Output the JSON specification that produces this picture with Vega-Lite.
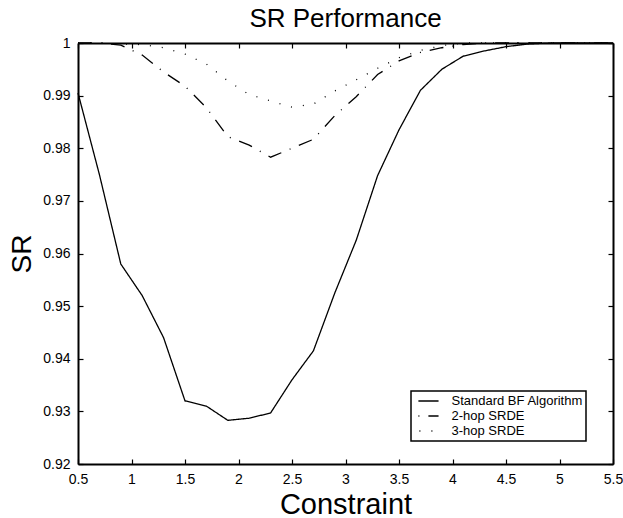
{
  "$schema": "https://vega.github.io/schema/vega-lite/v6.json",
  "width": 535,
  "height": 421,
  "autosize": "none",
  "padding": {"left": 78, "top": 43, "right": 10, "bottom": 54},
  "background": "white",
  "title": {"text": "SR Performance", "fontSize": 26, "font": "Liberation Sans", "fontWeight": "normal", "color": "black", "anchor": "middle", "offset": 4},
  "data": {"values": [
    {"series": "Standard BF Algorithm", "c": 0.5, "sr": 0.9905},
    {"series": "Standard BF Algorithm", "c": 0.7, "sr": 0.975},
    {"series": "Standard BF Algorithm", "c": 0.9, "sr": 0.958},
    {"series": "Standard BF Algorithm", "c": 1.1, "sr": 0.952},
    {"series": "Standard BF Algorithm", "c": 1.3, "sr": 0.944},
    {"series": "Standard BF Algorithm", "c": 1.5, "sr": 0.932},
    {"series": "Standard BF Algorithm", "c": 1.7, "sr": 0.931},
    {"series": "Standard BF Algorithm", "c": 1.9, "sr": 0.9283},
    {"series": "Standard BF Algorithm", "c": 2.1, "sr": 0.9287},
    {"series": "Standard BF Algorithm", "c": 2.3, "sr": 0.9297},
    {"series": "Standard BF Algorithm", "c": 2.5, "sr": 0.936},
    {"series": "Standard BF Algorithm", "c": 2.7, "sr": 0.9415},
    {"series": "Standard BF Algorithm", "c": 2.9, "sr": 0.9525},
    {"series": "Standard BF Algorithm", "c": 3.1, "sr": 0.9625},
    {"series": "Standard BF Algorithm", "c": 3.3, "sr": 0.9748},
    {"series": "Standard BF Algorithm", "c": 3.5, "sr": 0.9835},
    {"series": "Standard BF Algorithm", "c": 3.7, "sr": 0.991},
    {"series": "Standard BF Algorithm", "c": 3.9, "sr": 0.995},
    {"series": "Standard BF Algorithm", "c": 4.1, "sr": 0.9975},
    {"series": "Standard BF Algorithm", "c": 4.3, "sr": 0.9985},
    {"series": "Standard BF Algorithm", "c": 4.5, "sr": 0.9993},
    {"series": "Standard BF Algorithm", "c": 4.7, "sr": 0.9998},
    {"series": "Standard BF Algorithm", "c": 4.9, "sr": 1},
    {"series": "Standard BF Algorithm", "c": 5.1, "sr": 1},
    {"series": "Standard BF Algorithm", "c": 5.3, "sr": 1},
    {"series": "Standard BF Algorithm", "c": 5.5, "sr": 1},
    {"series": "2-hop SRDE", "c": 0.5, "sr": 1},
    {"series": "2-hop SRDE", "c": 0.7, "sr": 1},
    {"series": "2-hop SRDE", "c": 0.9, "sr": 0.9996},
    {"series": "2-hop SRDE", "c": 1.1, "sr": 0.9977},
    {"series": "2-hop SRDE", "c": 1.3, "sr": 0.9945},
    {"series": "2-hop SRDE", "c": 1.5, "sr": 0.9918},
    {"series": "2-hop SRDE", "c": 1.7, "sr": 0.9877},
    {"series": "2-hop SRDE", "c": 1.9, "sr": 0.9822},
    {"series": "2-hop SRDE", "c": 2.1, "sr": 0.9806},
    {"series": "2-hop SRDE", "c": 2.3, "sr": 0.9783},
    {"series": "2-hop SRDE", "c": 2.5, "sr": 0.98},
    {"series": "2-hop SRDE", "c": 2.7, "sr": 0.9817},
    {"series": "2-hop SRDE", "c": 2.9, "sr": 0.9862},
    {"series": "2-hop SRDE", "c": 3.1, "sr": 0.9898},
    {"series": "2-hop SRDE", "c": 3.3, "sr": 0.994},
    {"series": "2-hop SRDE", "c": 3.5, "sr": 0.9966},
    {"series": "2-hop SRDE", "c": 3.7, "sr": 0.9982},
    {"series": "2-hop SRDE", "c": 3.9, "sr": 0.9991},
    {"series": "2-hop SRDE", "c": 4.1, "sr": 0.9997},
    {"series": "2-hop SRDE", "c": 4.3, "sr": 1},
    {"series": "2-hop SRDE", "c": 4.5, "sr": 1},
    {"series": "2-hop SRDE", "c": 4.7, "sr": 1},
    {"series": "2-hop SRDE", "c": 4.9, "sr": 1},
    {"series": "2-hop SRDE", "c": 5.1, "sr": 1},
    {"series": "2-hop SRDE", "c": 5.3, "sr": 1},
    {"series": "2-hop SRDE", "c": 5.5, "sr": 1},
    {"series": "3-hop SRDE", "c": 0.5, "sr": 1},
    {"series": "3-hop SRDE", "c": 0.7, "sr": 1},
    {"series": "3-hop SRDE", "c": 0.9, "sr": 0.9998},
    {"series": "3-hop SRDE", "c": 1.1, "sr": 0.9997},
    {"series": "3-hop SRDE", "c": 1.3, "sr": 0.9991},
    {"series": "3-hop SRDE", "c": 1.5, "sr": 0.9979},
    {"series": "3-hop SRDE", "c": 1.7, "sr": 0.996},
    {"series": "3-hop SRDE", "c": 1.9, "sr": 0.9928},
    {"series": "3-hop SRDE", "c": 2.1, "sr": 0.9902},
    {"series": "3-hop SRDE", "c": 2.3, "sr": 0.989},
    {"series": "3-hop SRDE", "c": 2.5, "sr": 0.9878},
    {"series": "3-hop SRDE", "c": 2.7, "sr": 0.9884},
    {"series": "3-hop SRDE", "c": 2.9, "sr": 0.9909},
    {"series": "3-hop SRDE", "c": 3.1, "sr": 0.993},
    {"series": "3-hop SRDE", "c": 3.3, "sr": 0.9952},
    {"series": "3-hop SRDE", "c": 3.5, "sr": 0.9972},
    {"series": "3-hop SRDE", "c": 3.7, "sr": 0.9986},
    {"series": "3-hop SRDE", "c": 3.9, "sr": 0.9995},
    {"series": "3-hop SRDE", "c": 4.1, "sr": 1},
    {"series": "3-hop SRDE", "c": 4.3, "sr": 1},
    {"series": "3-hop SRDE", "c": 4.5, "sr": 1},
    {"series": "3-hop SRDE", "c": 4.7, "sr": 1},
    {"series": "3-hop SRDE", "c": 4.9, "sr": 1},
    {"series": "3-hop SRDE", "c": 5.1, "sr": 1},
    {"series": "3-hop SRDE", "c": 5.3, "sr": 1},
    {"series": "3-hop SRDE", "c": 5.5, "sr": 1}
  ]},
  "layer": [
    {
      "mark": {"type": "line", "stroke": "black", "strokeWidth": 1.3, "strokeCap": "butt"},
      "encoding": {
        "x": {"field": "c", "type": "quantitative", "scale": {"domain": [0.5, 5.5], "nice": false, "zero": false},
          "axis": {"orient": "bottom", "values": [0.5, 1, 1.5, 2, 2.5, 3, 3.5, 4, 4.5, 5, 5.5], "format": "~g", "tickSize": -5, "labelPadding": 13, "labelFlush": false, "title": "Constraint", "titleFontSize": 29, "titlePadding": 27, "titleBaseline": "alphabetic"}},
        "y": {"field": "sr", "type": "quantitative", "scale": {"domain": [0.92, 1], "nice": false, "zero": false},
          "axis": {"orient": "left", "values": [0.92, 0.93, 0.94, 0.95, 0.96, 0.97, 0.98, 0.99, 1], "format": "~g", "tickSize": -5, "labelPadding": 13, "labelFlush": false, "title": "SR", "titleFontSize": 28, "titlePadding": 12, "titleBaseline": "alphabetic"}},
        "strokeDash": {"field": "series", "type": "nominal",
          "scale": {"domain": ["Standard BF Algorithm", "2-hop SRDE", "3-hop SRDE"], "range": [[1, 0], [14, 9, 1, 9], [1, 11]]},
          "legend": {"title": null, "orient": "none", "legendX": 333, "legendY": 348, "padding": 2.5, "strokeColor": "black", "fillColor": "white", "cornerRadius": 0,
            "symbolType": "M-0.4,0H2.7", "symbolSize": 169, "symbolStrokeWidth": 1.3, "symbolStrokeColor": "black", "symbolFillColor": "transparent", "symbolDashOffset": 23,
            "labelFont": "Liberation Sans", "labelFontSize": 13, "labelColor": "black", "labelOffset": 23, "rowPadding": 0}},
        "order": {"field": "c", "type": "quantitative"}
      }
    },
    {
      "mark": {"type": "line", "opacity": 0},
      "encoding": {
        "x": {"field": "c", "type": "quantitative", "axis": {"orient": "top", "values": [0.5, 1, 1.5, 2, 2.5, 3, 3.5, 4, 4.5, 5, 5.5], "labels": false, "tickSize": -5, "title": null}},
        "y": {"field": "sr", "type": "quantitative", "axis": {"orient": "right", "values": [0.92, 0.93, 0.94, 0.95, 0.96, 0.97, 0.98, 0.99, 1], "labels": false, "tickSize": -5, "title": null}},
        "detail": {"field": "series"},
        "order": {"field": "c", "type": "quantitative"}
      }
    }
  ],
  "resolve": {"axis": {"x": "independent", "y": "independent"}},
  "config": {
    "view": {"stroke": null},
    "axis": {"grid": false, "domainColor": "black", "domainWidth": 2, "tickColor": "black", "tickWidth": 1.2, "labelFont": "Liberation Sans", "labelFontSize": 14, "labelColor": "black", "titleFont": "Liberation Sans", "titleFontWeight": "normal", "titleColor": "black"},
    "legend": {"strokeWidth": 1.5}
  }
}
